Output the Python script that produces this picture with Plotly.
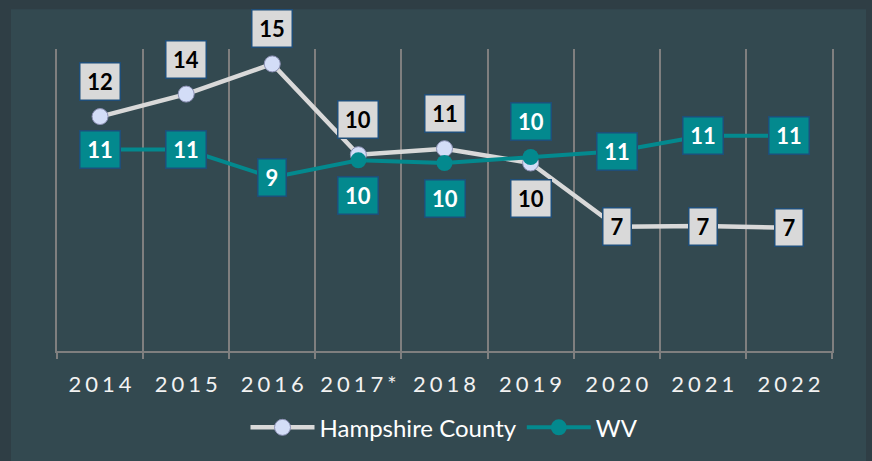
import plotly.graph_objects as go

# ---- data ----
years = ["2014", "2015", "2016", "2017*", "2018", "2019", "2020", "2021", "2022"]
hampshire = [12.42, 13.61, 15.21, 10.40, 10.72, 9.96, 6.58, 6.62, 6.53]
wv = [10.67, 10.67, 9.19, 10.10, 9.96, 10.28, 10.58, 11.40, 11.40]
hampshire_labels = ["12", "14", "15", "10", "11", "10", "7", "7", "7"]
wv_labels = ["11", "11", "9", "10", "10", "10", "11", "11", "11"]

# label placement relative to the point (style)
hampshire_side = ["above", "above", "above", "above", "above", "below", "center", "center", "center"]
wv_side = ["center", "center", "center", "below", "below", "above", "center", "center", "center"]

FONT = "Lato"
OUTER_BG = "#2f3e45"
INNER_BG = "#334950"
GRID = "#7f7f7f"
HAMP_LINE = "#d9d9d9"
HAMP_MARK = "#d3ddf7"
TEAL = "#03898e"
BOX_BORDER = "#1f4e79"

fig = go.Figure()
fig.add_trace(go.Scatter(
    x=years, y=hampshire, name="Hampshire County", mode="lines+markers",
    line=dict(color=HAMP_LINE, width=4.5),
    marker=dict(size=16, color=HAMP_MARK, line=dict(color="#8c90b4", width=1)),
    hoverinfo="skip",
))
fig.add_trace(go.Scatter(
    x=years, y=wv, name="WV", mode="lines+markers",
    line=dict(color=TEAL, width=4),
    marker=dict(size=16, color=TEAL),
    hoverinfo="skip",
))

shift = {"above": 35, "below": -35, "center": 0}
annotations = []
for ys, labs, sides, bg, fc in [
    (hampshire, hampshire_labels, hampshire_side, "#d9d9d9", "#000000"),
    (wv, wv_labels, wv_side, TEAL, "#ffffff"),
]:
    for i, (y, lab, side) in enumerate(zip(ys, labs, sides)):
        annotations.append(dict(
            x=i, y=y, xref="x", yref="y", text="<b>%s</b>" % lab,
            showarrow=False, yshift=shift[side], xanchor="center", yanchor="middle",
            font=dict(family=FONT, size=22, color=fc),
            bgcolor=bg, bordercolor=BOX_BORDER, borderwidth=1.5, borderpad=5,
            width=29 if len(lab) > 1 else 17, height=26, align="center", valign="middle",
        ))

fig.update_layout(
    width=872, height=461,
    margin=dict(l=57, r=40, t=49, b=109),
    paper_bgcolor=OUTER_BG,
    plot_bgcolor="rgba(0,0,0,0)",
    showlegend=True,
    legend=dict(orientation="h", x=0.5, xanchor="center", y=-0.25, yanchor="middle",
                font=dict(family=FONT, size=24, color="#ffffff"),
                bgcolor="rgba(0,0,0,0)", itemwidth=64, tracegroupgap=0),
    annotations=annotations,
    shapes=[dict(type="rect", xref="paper", yref="paper",
                 x0=(11 - 57) / 775, x1=(866 - 57) / 775,
                 y0=(352 - 470) / 303, y1=(352 - 9) / 303,
                 fillcolor=INNER_BG, line=dict(width=0), layer="below")],
    xaxis=dict(type="category", tickson="boundaries", showgrid=True, gridcolor=GRID, gridwidth=1.5,
               showline=True, linecolor=GRID, linewidth=1.5,
               ticks="outside", ticklen=6, tickcolor=GRID, tickwidth=1.5,
               tickfont=dict(family=FONT, size=22, color="#f2f2f2"),
               ticklabelstandoff=13, range=[-0.5, 8.5], fixedrange=True),
    yaxis=dict(range=[0, 16], showgrid=False, zeroline=False, showticklabels=False,
               showline=True, mirror=True, linecolor=GRID, linewidth=1.5, ticks="", fixedrange=True),
)

post = """
document.body.style.margin='0';document.body.style.overflow='hidden';
var gd=document.getElementById('{plot_id}');
function spaceTicks(){gd.querySelectorAll('.xtick text').forEach(function(t){t.style.letterSpacing='4px';t.setAttribute('dx','2');});}
spaceTicks();
gd.on('plotly_afterplot', spaceTicks);
"""
fig.write_html("out.html", config={"displayModeBar": False}, post_script=post)
